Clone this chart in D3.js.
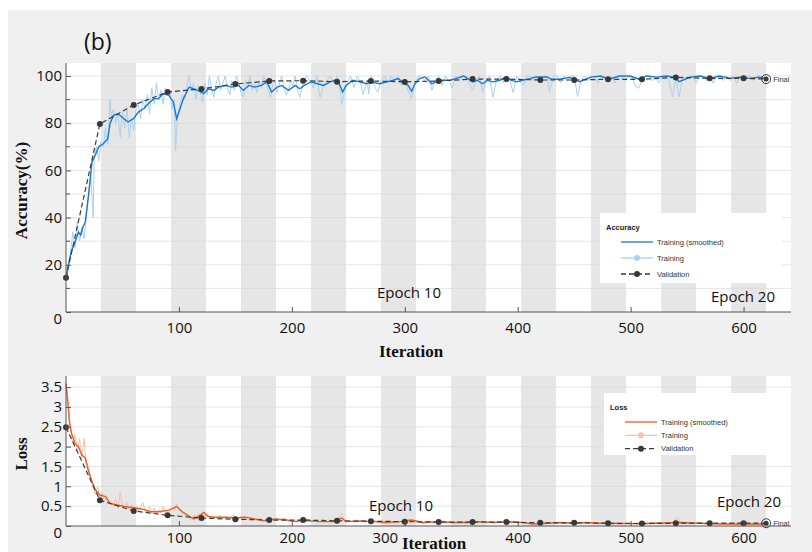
<!DOCTYPE html>
<html>
<head>
<meta charset="utf-8">
<script src="https://cdnjs.cloudflare.com/ajax/libs/d3/7.8.5/d3.min.js"></script>
<style>
  body { margin: 0; background: #ffffff; }
  .chart text { font-family: "Open Sans", sans-serif; }
  .axisLabel { font-family: "Liberation Serif", serif !important; font-weight: bold; }
  .legend text { font-family: "Liberation Sans", Arial, sans-serif; }
</style>
</head>
<body>
<div class="chart"></div>
<script>
// Values: [iteration, value].
var accTrainSmoothed = [[0,14.1],[2,20],[5,26],[8,29.7],[11,33.9],[13,32.6],[15,36],[17,38],[20,49.6],[23,63.6],[26,66.5],[29,70],[33,71.3],[37,73.4],[39,79.8],[42,83.3],[46,84],[51,82],[55,80.5],[60,82],[64,84.7],[69,86.2],[73,88.3],[78,90.4],[82,90.4],[86,92.5],[91,91.8],[95,89],[98,81.9],[101,86.2],[104,90.4],[109,95.3],[113,94.5],[117,93.8],[122,92.5],[126,94.6],[131,93.9],[135,95.3],[141,96],[147,95.3],[153,96],[157,93.9],[162,96],[167,95.3],[173,96],[178,97.5],[182,93.2],[187,95.3],[191,96],[197,93.9],[203,96],[207,94.6],[211,96],[217,97.5],[223,96.7],[228,96],[234,97.5],[238,98.2],[242,96.7],[245,93.2],[248,96],[254,98.2],[260,97.5],[266,96.7],[270,97.5],[278,96.7],[284,97.5],[290,98.2],[294,98.9],[298,97.5],[303,96],[306,93.5],[309,96.7],[313,98.9],[318,99.6],[321,98.2],[324,96.7],[330,98.2],[336,98.2],[340,98.2],[345,98.9],[352,100],[356,98.9],[360,97.5],[364,98.2],[369,96.7],[373,98.2],[378,97.5],[384,98.2],[390,99.6],[394,98.2],[399,97.5],[404,98.2],[411,98.9],[416,99.6],[422,99.6],[426,99.6],[430,98.6],[437,98.6],[446,99.4],[455,97.6],[464,99.4],[473,100],[481,98.6],[490,100],[499,100],[508,98.6],[514,100],[523,99.5],[532,100],[539,99.4],[543,97.6],[552,99.4],[561,100],[570,99],[579,100],[588,99],[596,99.5],[605,99],[614,99.5],[620,99]];

var accTrainRaw = [[0,13],[2,18],[4,25],[6,34],[8,27],[10,38],[12,30],[14,36],[16,31],[18,40],[20,50],[22,58],[24,40],[25,66],[27,70],[29,64],[31,72],[33,70],[35,78],[37,71],[39,90],[40,83],[42,86],[44,80],[46,84],[48,74],[50,85],[52,78],[54,86],[56,74],[58,82],[60,77],[62,86],[64,88],[66,82],[68,90],[70,86],[72,92],[74,84],[76,95],[78,88],[80,97],[82,90],[84,94],[86,88],[88,95],[90,92],[92,94],[94,86],[96,90],[97,68.5],[99,84],[101,88],[103,92],[105,90],[107,95],[109,100],[111,94],[113,97],[115,90],[117,96],[119,93],[121,89],[123,97],[125,92],[127,100],[129,94],[131,91],[133,97],[135,100],[137,94],[139,97],[141,100],[143,95],[145,92],[147,98],[149,94],[151,100],[153,97],[155,93],[157,91],[159,98],[161,96],[163,100],[165,94],[167,97],[169,93],[171,98],[173,95],[175,100],[177,98],[179,94],[181,91],[183,96],[185,98],[187,93],[189,97],[191,100],[193,95],[195,92],[197,94],[199,98],[201,96],[203,100],[205,94],[207,91],[210,97],[213,100],[216,98],[219,95],[222,100],[225,91],[228,96],[231,98],[234,100],[237,97],[240,100],[243,94],[244,87.7],[246,92],[249,97],[252,100],[255,95],[258,100],[261,97],[263,92],[267,98],[268,92.4],[270,100],[273,96],[276,93],[279,98],[282,100],[285,97],[288,100],[291,98],[294,100],[297,96],[300,98],[303,94],[306,90.5],[309,97],[312,100],[315,100],[318,98],[321,100],[324,94],[327,98],[330,100],[333,96],[336,100],[339,98],[342,95],[345,100],[348,98],[351,100],[354,100],[357,97],[360,94],[363,98],[366,100],[369,93],[372,98],[375,100],[378,91],[381,98],[384,100],[387,97],[390,100],[393,98],[396,93],[399,100],[402,98],[405,96],[408,100],[411,100],[414,98],[417,100],[420,97],[423,100],[426,100],[428,93.3],[432,100],[435,100],[438,97],[441,100],[444,98],[447,100],[450,100],[453,91.2],[456,98],[459,100],[462,98],[465,100],[468,100],[471,97],[474,100],[477,100],[480,98],[483,100],[486,97],[489,100],[492,100],[495,98],[498,100],[501,100],[504,96],[507,94.8],[510,98],[513,100],[516,100],[519,98],[522,100],[525,97],[528,100],[531,100],[534,98],[537,91.2],[540,99],[543,91.2],[546,100],[549,98],[552,100],[555,100],[558,97],[561,100],[564,100],[567,98],[570,100],[573,97],[576,100],[579,100],[582,98],[585,100],[588,98],[591,100],[594,97],[597,100],[600,98],[603,100],[606,100],[609,98],[612,100],[615,100],[618,98],[620,100]];

var accValidation = [[0,14.5],[30,79.7],[60,87.7],[90,93.2],[120,94.5],[150,96.6],[180,97.9],[210,98],[240,97.6],[270,97.9],[300,97.5],[330,97.9],[360,98.7],[390,98.7],[420,98.3],[450,98.3],[480,98.6],[510,98.6],[540,99.4],[570,99],[600,99],[620,98.7]];

var lossTrainSmoothed = [[0,3.59],[2,3.0],[3,2.63],[5,2.33],[8,2.08],[11,2.0],[14,1.79],[17,1.72],[20,1.37],[23,1.12],[26,0.91],[30,0.78],[35,0.74],[39,0.57],[45,0.53],[52,0.49],[60,0.46],[67,0.43],[75,0.36],[82,0.36],[91,0.4],[98,0.49],[103,0.36],[107,0.28],[113,0.18],[117,0.24],[122,0.34],[126,0.24],[132,0.22],[141,0.22],[150,0.2],[159,0.22],[167,0.18],[176,0.13],[185,0.18],[194,0.16],[203,0.11],[209,0.14],[216,0.13],[225,0.11],[237,0.11],[244,0.2],[248,0.11],[260,0.13],[272,0.11],[284,0.09],[296,0.11],[306,0.15],[316,0.09],[331,0.11],[343,0.09],[355,0.09],[367,0.11],[378,0.09],[390,0.11],[402,0.09],[414,0.05],[425,0.07],[437,0.09],[449,0.07],[461,0.09],[473,0.07],[480,0.07],[500,0.06],[520,0.07],[543,0.09],[560,0.07],[580,0.05],[600,0.05],[620,0.05]];

var lossTrainRaw = [[0,3.6],[2,3.1],[4,2.4],[6,2.1],[8,2.3],[10,1.9],[12,2.2],[14,1.7],[16,2.2],[18,1.6],[20,1.5],[22,1.2],[24,1.0],[26,0.8],[28,1.0],[30,0.7],[32,0.85],[34,0.6],[36,0.75],[38,0.55],[40,0.62],[42,0.5],[44,0.7],[46,0.45],[48,0.86],[50,0.5],[52,0.45],[54,0.58],[56,0.42],[58,0.55],[60,0.4],[62,0.5],[64,0.38],[66,0.48],[68,0.6],[70,0.4],[72,0.35],[74,0.5],[76,0.32],[78,0.45],[80,0.3],[82,0.42],[84,0.33],[86,0.5],[88,0.3],[90,0.4],[92,0.35],[94,0.45],[96,0.38],[98,0.57],[100,0.4],[102,0.33],[104,0.3],[106,0.25],[108,0.3],[110,0.15],[112,0.2],[114,0.28],[116,0.17],[118,0.3],[120,0.25],[122,0.35],[124,0.22],[126,0.28],[128,0.18],[130,0.25],[133,0.2],[136,0.27],[139,0.18],[142,0.24],[145,0.2],[148,0.29],[151,0.17],[154,0.22],[157,0.25],[160,0.16],[163,0.22],[166,0.18],[169,0.14],[172,0.2],[175,0.12],[178,0.16],[181,0.22],[184,0.15],[187,0.19],[190,0.13],[193,0.2],[196,0.14],[199,0.1],[202,0.15],[205,0.09],[208,0.16],[211,0.12],[214,0.18],[217,0.11],[220,0.14],[223,0.09],[226,0.13],[229,0.1],[232,0.16],[235,0.1],[238,0.13],[241,0.17],[244,0.32],[247,0.1],[250,0.14],[253,0.09],[256,0.16],[259,0.11],[262,0.14],[265,0.08],[268,0.13],[271,0.1],[274,0.15],[277,0.08],[280,0.12],[283,0.07],[286,0.13],[289,0.09],[292,0.12],[295,0.08],[298,0.14],[301,0.1],[304,0.18],[307,0.12],[310,0.08],[313,0.11],[316,0.06],[319,0.1],[322,0.13],[325,0.07],[328,0.11],[331,0.09],[334,0.14],[337,0.07],[340,0.1],[343,0.06],[346,0.11],[349,0.08],[352,0.12],[355,0.07],[358,0.1],[361,0.06],[364,0.13],[367,0.09],[370,0.11],[373,0.06],[376,0.1],[379,0.07],[382,0.12],[385,0.08],[388,0.14],[391,0.09],[394,0.07],[397,0.11],[400,0.08],[403,0.1],[406,0.06],[409,0.08],[412,0.04],[415,0.07],[418,0.05],[421,0.09],[424,0.06],[427,0.08],[430,0.05],[433,0.1],[436,0.07],[439,0.09],[442,0.06],[445,0.08],[448,0.05],[451,0.09],[454,0.07],[457,0.1],[460,0.06],[463,0.09],[466,0.07],[469,0.08],[472,0.05],[475,0.08],[478,0.06],[481,0.09],[484,0.05],[487,0.07],[490,0.04],[493,0.07],[496,0.06],[499,0.08],[502,0.05],[505,0.07],[508,0.04],[511,0.07],[514,0.05],[517,0.08],[520,0.06],[523,0.09],[526,0.05],[529,0.07],[532,0.06],[535,0.08],[538,0.1],[541,0.23],[544,0.08],[547,0.06],[550,0.08],[553,0.05],[556,0.07],[559,0.06],[562,0.08],[565,0.05],[568,0.07],[571,0.04],[574,0.06],[577,0.05],[580,0.07],[583,0.04],[586,0.06],[589,0.05],[592,0.07],[595,0.04],[598,0.06],[601,0.05],[604,0.07],[607,0.04],[610,0.06],[613,0.05],[616,0.06],[620,0.05]];

var lossValidation = [[0,2.49],[30,0.65],[60,0.38],[90,0.27],[120,0.2],[150,0.17],[180,0.15],[210,0.15],[240,0.13],[270,0.12],[300,0.11],[330,0.1],[360,0.1],[390,0.1],[420,0.08],[450,0.08],[480,0.07],[510,0.06],[540,0.07],[570,0.07],[600,0.07],[620,0.07]];

// Epochs and axis ticks.
var epochs = d3.range(1, 21);
var itersPerEpoch = 31;
var xTicks = [100, 200, 300, 400, 500, 600];
var accTicks = [0, 20, 40, 60, 80, 100];
var accGrid = [10, 20, 30, 40, 50, 60, 70, 80, 90, 100];
var lossTicks = [0, 0.5, 1, 1.5, 2, 2.5, 3, 3.5];

// Define SVG dimensions.
var w = 812,
    h = 552;

var svg = d3.select(".chart").append("svg")
  .attr("width", w)
  .attr("height", h);

// Figure background.
svg.append("rect")
  .attr("x", 8)
  .attr("y", 10)
  .attr("width", w - 8)
  .attr("height", h - 10)
  .attr("fill", "#f0f0f0");

svg.append("text")
  .attr("x", 84)
  .attr("y", 50)
  .style("font-size", "23px")
  .style("fill", "#111")
  .text("(b)");

var xMax = 642;

drawPanel({
  top: 63, bottom: 312, left: 66, right: 791,
  yMax: 105.5, ticks: accTicks, grid: accGrid, minor: [10, 30, 50, 70, 90],
  raw: accTrainRaw, smooth: accTrainSmoothed, valid: accValidation,
  rawColor: "#a9d1ef", smoothColor: "#1a78cf",
  yLabel: "Accuracy(%)", xLabelY: 357, xLabelX: 411, labelPad: 10, labelShift: {},
  epoch10: [409, 298], epoch20: [743, 302],
  legend: {x: 600, y: 213, w: 182, h: 70, title: "Accuracy"}
});

drawPanel({
  top: 376, bottom: 526, left: 66, right: 791,
  yMax: 3.78, ticks: lossTicks, grid: lossTicks.slice(1), minor: [],
  raw: lossTrainRaw, smooth: lossTrainSmoothed, valid: lossValidation,
  rawColor: "#f6c3aa", smoothColor: "#e4602a",
  yLabel: "Loss", xLabelY: 549, xLabelX: 434, labelPad: 6, labelShift: {300: -20},
  epoch10: [401, 511], epoch20: [749, 507],
  legend: {x: 604, y: 393, w: 187, h: 62, title: "Loss"}
});

function drawPanel(p) {
  var xScale = d3.scaleLinear()
    .domain([0, xMax])
    .range([p.left, p.right]);

  var yScale = d3.scaleLinear()
    .domain([0, p.yMax])
    .range([p.bottom, p.top]);

  var g = svg.append("g");

  // Plot area and shaded even epochs.
  g.append("rect")
    .attr("x", p.left)
    .attr("y", p.top)
    .attr("width", p.right - p.left)
    .attr("height", p.bottom - p.top)
    .attr("fill", "#ffffff");

  g.selectAll(".band")
    .data(epochs.filter(function(e) { return e % 2 === 0; }))
    .enter()
    .append("rect")
    .attr("x", function(e) { return xScale((e - 1) * itersPerEpoch); })
    .attr("y", p.top)
    .attr("width", function(e) { return xScale(e * itersPerEpoch) - xScale((e - 1) * itersPerEpoch); })
    .attr("height", p.bottom - p.top)
    .attr("fill", "#e6e6e6");

  g.selectAll(".grid")
    .data(p.grid)
    .enter()
    .append("line")
    .attr("x1", p.left)
    .attr("x2", p.right)
    .attr("y1", function(d) { return yScale(d); })
    .attr("y2", function(d) { return yScale(d); })
    .attr("stroke", "#dadada")
    .attr("stroke-opacity", 0.7)
    .attr("stroke-width", 1);

  // Epoch labels.
  g.append("text")
    .attr("x", p.epoch10[0])
    .attr("y", p.epoch10[1])
    .style("text-anchor", "middle")
    .style("font-size", "15px")
    .style("fill", "#111")
    .text("Epoch 10");

  g.append("text")
    .attr("x", p.epoch20[0])
    .attr("y", p.epoch20[1])
    .style("text-anchor", "middle")
    .style("font-size", "15px")
    .style("fill", "#111")
    .text("Epoch 20");

  var line = d3.line()
    .x(function(d) { return xScale(d[0]); })
    .y(function(d) { return yScale(d[1]); });

  g.append("path")
    .datum(p.raw)
    .attr("d", line)
    .attr("fill", "none")
    .attr("stroke", p.rawColor)
    .attr("stroke-width", 1);

  g.append("path")
    .datum(p.smooth)
    .attr("d", line)
    .attr("fill", "none")
    .attr("stroke", p.smoothColor)
    .attr("stroke-width", 1.4);

  g.append("path")
    .datum(p.valid)
    .attr("d", line)
    .attr("fill", "none")
    .attr("stroke", "#3a3a3a")
    .attr("stroke-width", 1.2)
    .attr("stroke-dasharray", "5,3");

  g.selectAll(".vdot")
    .data(p.valid.slice(0, -1))
    .enter()
    .append("circle")
    .attr("cx", function(d) { return xScale(d[0]); })
    .attr("cy", function(d) { return yScale(d[1]); })
    .attr("r", 3)
    .attr("fill", "#383838");

  // Final validation point.
  var last = p.valid[p.valid.length - 1];
  g.append("circle")
    .attr("cx", xScale(last[0]))
    .attr("cy", yScale(last[1]))
    .attr("r", 4.5)
    .attr("fill", "none")
    .attr("stroke", "#383838")
    .attr("stroke-width", 1);
  g.append("circle")
    .attr("cx", xScale(last[0]))
    .attr("cy", yScale(last[1]))
    .attr("r", 2.5)
    .attr("fill", "#383838");
  g.append("text")
    .attr("x", xScale(last[0]) + 7)
    .attr("y", yScale(last[1]) + 3)
    .style("font-family", "Liberation Sans, Arial, sans-serif")
    .style("font-size", "7.5px")
    .style("fill", "#333")
    .text("Final");

  // Axes with ticks pointing inward.
  var xAxis = d3.axisBottom(xScale)
    .tickValues(xTicks)
    .tickSize(-5)
    .tickPadding(p.labelPad)
    .tickSizeOuter(0);

  var yAxis = d3.axisLeft(yScale)
    .tickValues(p.ticks)
    .tickSize(-5)
    .tickPadding(4)
    .tickSizeOuter(0)
    .tickFormat(d3.format("~g"));

  var gx = g.append("g")
    .attr("transform", "translate(0," + p.bottom + ")")
    .call(xAxis);
  gx.select(".domain").attr("d", "M" + p.left + ",0H" + p.right);
  gx.selectAll(".tick text")
    .attr("dx", function(d) { return p.labelShift[d] || 0; });

  var gy = g.append("g")
    .attr("transform", "translate(" + p.left + ",0)")
    .call(yAxis);
  gy.select(".domain").attr("d", "M0," + p.top + "V" + p.bottom);

  [gx, gy].forEach(function(a) {
    a.selectAll("path, line").attr("stroke", "#555");
    a.selectAll("text")
      .style("font-family", "Open Sans, sans-serif")
      .style("font-size", "15px")
      .style("fill", "#111");
  });
  gy.selectAll(".tick")
    .filter(function(d) { return d === 0; })
    .select("text")
    .attr("dy", "0.75em");

  g.selectAll(".minor")
    .data(p.minor)
    .enter()
    .append("line")
    .attr("x1", p.left)
    .attr("x2", p.left + 4)
    .attr("y1", function(d) { return yScale(d); })
    .attr("y2", function(d) { return yScale(d); })
    .attr("stroke", "#555");

  // Axis titles.
  g.append("text")
    .attr("class", "axisLabel")
    .attr("x", p.xLabelX)
    .attr("y", p.xLabelY)
    .style("text-anchor", "middle")
    .style("font-size", "17px")
    .style("fill", "#111")
    .text("Iteration");

  g.append("text")
    .attr("class", "axisLabel")
    .attr("transform", "translate(27," + ((p.top + p.bottom) / 2 + 3) + ") rotate(-90)")
    .style("text-anchor", "middle")
    .style("font-size", "17px")
    .style("fill", "#111")
    .text(p.yLabel);

  drawLegend(p.legend, p.smoothColor, p.rawColor);
}

function drawLegend(l, smoothColor, rawColor) {
  var lg = svg.append("g").attr("class", "legend");

  lg.append("rect")
    .attr("x", l.x)
    .attr("y", l.y)
    .attr("width", l.w)
    .attr("height", l.h)
    .attr("fill", "#ffffff");

  lg.append("text")
    .attr("x", l.x + 6)
    .attr("y", l.y + 17)
    .style("font-size", "7.5px")
    .style("font-weight", "bold")
    .style("fill", "#222")
    .text(l.title);

  var items = [
    {name: "Training (smoothed)", color: smoothColor, dash: null, dot: null},
    {name: "Training", color: rawColor, dash: null, dot: rawColor},
    {name: "Validation", color: "#3a3a3a", dash: "5,3", dot: "#383838"}
  ];
  var step = (l.h - 22) / 3;

  items.forEach(function(it, i) {
    var yy = l.y + 29 + i * step;
    lg.append("line")
      .attr("x1", l.x + 21)
      .attr("x2", l.x + 53)
      .attr("y1", yy)
      .attr("y2", yy)
      .attr("stroke", it.color)
      .attr("stroke-width", 1.3)
      .attr("stroke-dasharray", it.dash);
    if (it.dot) {
      lg.append("circle")
        .attr("cx", l.x + 37)
        .attr("cy", yy)
        .attr("r", 3)
        .attr("fill", it.dot);
    }
    lg.append("text")
      .attr("x", l.x + 57)
      .attr("y", yy + 2.5)
      .style("font-size", "7.5px")
      .style("fill", "#333")
      .text(it.name);
  });
}
</script>
</body>
</html>
